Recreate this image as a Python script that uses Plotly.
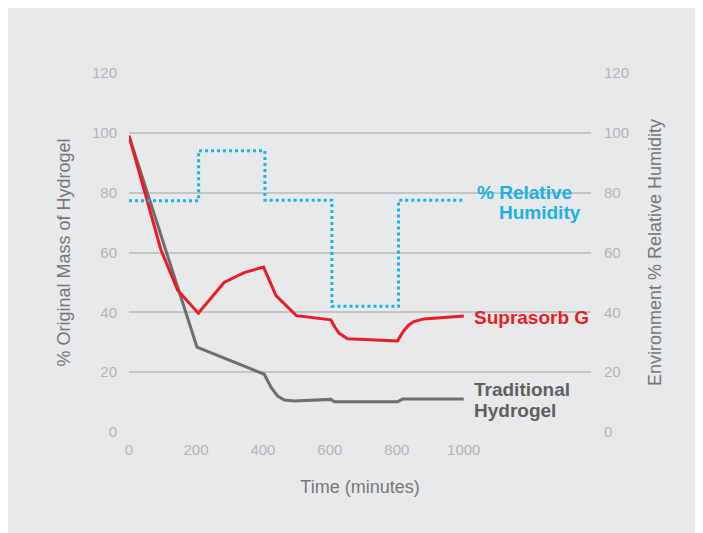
import plotly.graph_objects as go

# Data
supra_x = [0, 95, 145, 207, 284, 344, 402, 439, 500, 603, 615, 628, 653, 700, 802, 812, 822, 836, 851, 881, 1000]
supra_y = [99, 61, 47.5, 39.7, 50, 53.3, 55.1, 45.6, 38.9, 37.5, 35, 33, 31.2, 31, 30.4, 32.3, 34, 35.8, 36.9, 37.8, 38.8]

trad_x = [0, 203, 404, 424, 444, 464, 493, 603, 613, 802, 817, 1000]
trad_y = [99, 28.4, 19.3, 15, 12, 10.7, 10.4, 10.9, 10.1, 10.1, 11, 11]

rh_x = [0, 208, 406, 606, 805, 1000]
rh_y = [77.3, 94, 77.5, 42, 77.5, 77.5]

x_ticks = [0, 200, 400, 600, 800, 1000]
y_ticks = [0, 20, 40, 60, 80, 100, 120]

RED = "#ed1c24"
GRAY = "#5e5f61"
BLUE = "#1ab0ea"
FONT = "Liberation Sans, Arial, sans-serif"

fig = go.Figure()
fig.add_trace(go.Scatter(x=rh_x, y=rh_y, mode="lines", line=dict(color=BLUE, width=3, dash="dot", shape="hv"),
                         yaxis="y2", showlegend=False, hoverinfo="skip"))
fig.add_trace(go.Scatter(x=trad_x, y=trad_y, mode="lines", line=dict(color="#6d6e70", width=3),
                         showlegend=False))
fig.add_trace(go.Scatter(x=supra_x, y=supra_y, mode="lines", line=dict(color=RED, width=3),
                         showlegend=False))

tickfont = dict(family=FONT, size=15, color="#b3b4b6")
titlefont = dict(family=FONT, size=18, color="#75767a")
annfont = dict(family=FONT, size=19, weight="bold")

fig.update_layout(
    width=695, height=525,
    margin=dict(l=121, r=112, t=65, b=101, autoexpand=False),
    paper_bgcolor="#e8e9ea",
    plot_bgcolor="rgba(0,0,0,0)",
    font=dict(family=FONT),
    xaxis=dict(range=[0, 1380], tickvals=x_ticks, ticktext=[str(v) for v in x_ticks],
               showgrid=False, zeroline=False, showline=False,
               ticks="outside", ticklen=4, tickcolor="rgba(0,0,0,0)",
               tickfont=tickfont,
               title=dict(text="Time (minutes)", font=titlefont, standoff=23)),
    yaxis=dict(range=[0, 120], tickvals=y_ticks, showgrid=True, gridcolor="#c4c5c7", gridwidth=1.6,
               zeroline=False, showline=False,
               ticks="outside", ticklen=8, tickcolor="rgba(0,0,0,0)",
               tickfont=tickfont,
               title=dict(text="% Original Mass of Hydrogel", font=titlefont, standoff=16)),
    yaxis2=dict(range=[0, 120], tickvals=y_ticks, overlaying="y", side="right", showgrid=False,
                zeroline=False, showline=False,
                ticks="outside", ticklen=9, tickcolor="rgba(0,0,0,0)",
                tickfont=tickfont,
                title=dict(text="Environment % Relative Humidity", font=titlefont, standoff=20)),
    annotations=[
        dict(x=1033, y=80.2, xref="x", yref="y", text="% Relative", showarrow=False,
             xanchor="left", yanchor="middle", font=dict(annfont, color=BLUE)),
        dict(x=1100, y=73.3, xref="x", yref="y", text="Humidity", showarrow=False,
             xanchor="left", yanchor="middle", font=dict(annfont, color=BLUE)),
        dict(x=1024, y=38.3, xref="x", yref="y", text="Suprasorb G", showarrow=False,
             xanchor="left", yanchor="middle", font=dict(annfont, color=RED)),
        dict(x=1024, y=14.2, xref="x", yref="y", text="Traditional", showarrow=False,
             xanchor="left", yanchor="middle", font=dict(annfont, color=GRAY)),
        dict(x=1024, y=7.3, xref="x", yref="y", text="Hydrogel", showarrow=False,
             xanchor="left", yanchor="middle", font=dict(annfont, color=GRAY)),
    ],
)

fig.write_html("out.html", post_script="document.documentElement.style.overflow='hidden';document.body.style.overflow='hidden';")
